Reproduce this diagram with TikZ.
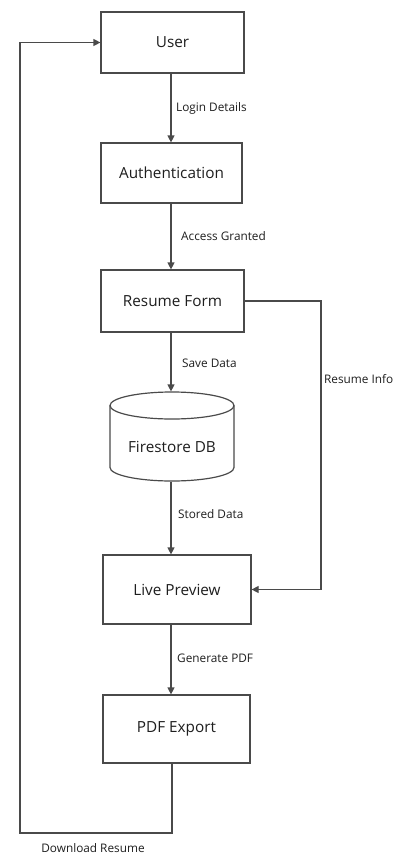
\documentclass[tikz,border=0pt]{standalone}
\usepackage{fontspec}
\setmainfont{Open Sans}
\usetikzlibrary{arrows.meta}
\definecolor{ln}{HTML}{4a4a4a}
\definecolor{tx}{HTML}{1e1e1e}
\tikzset{
  box/.style={draw=ln, line width=1.2pt, fill=white, inner sep=0pt, text=tx, font=\fontsize{15.3}{18}\selectfont},
  lbl/.style={text=tx, font=\fontsize{11.8}{14}\selectfont, inner sep=0pt},
  flow/.style={draw=ln, line width=1.2pt, -{Triangle[length=7pt,width=7pt]}},
  plain/.style={draw=ln, line width=1.2pt}
}
\begin{document}
\begin{tikzpicture}[x=1pt,y=-1pt]
\useasboundingbox[fill=white] (0,0) rectangle (396,857);
\node[box, minimum width=143pt, minimum height=61pt] (user) at (172.5,42.5) {User};
\node[box, minimum width=141pt, minimum height=60pt] (auth) at (171.5,173) {Authentication};
\node[box, minimum width=143pt, minimum height=62pt] (form) at (172.5,301) {Resume Form};
\node[box, draw=none, fill=none, minimum width=124pt, minimum height=89pt] (db) at (172,436.5) {};
\node[box, minimum width=148pt, minimum height=69pt] (prev) at (177,589.5) {Live Preview};
\node[box, minimum width=147pt, minimum height=68pt] (pdf) at (176.5,729) {PDF Export};
% cylinder
\draw[plain, fill=white] (110,405.5) -- (110,467.5) arc[start angle=180, end angle=360, x radius=62, y radius=-13.5] -- (234,405.5);
\draw[plain, fill=white] (172,405.5) ellipse[x radius=62, y radius=13.5];
\node[text=tx, font=\fontsize{15.3}{18}\selectfont, inner sep=0pt] (dbt) at (172,447) {Firestore DB};
% connectors
\coordinate (c1) at (321,301);
\coordinate (c2) at (321,589.5);
\coordinate (c3) at (172,833);
\coordinate (c4) at (20,833);
\coordinate (c5) at (20,42.5);
\draw[flow] (user.south -| 171,0) -- (auth.north -| 171,0);
\draw[flow] (auth.south -| 171,0) -- (form.north -| 171,0);
\draw[flow] (form.south -| 171,0) -- (db.north -| 171,0);
\draw[flow] (db.south -| 171,0) -- (prev.north -| 171,0);
\draw[flow] (prev.south -| 171,0) -- (pdf.north -| 171,0);
\draw[flow] (form.east |- c1) -- (c1) -- (c2) -- (prev.east);
\draw[flow] (pdf.south -| c3) -- (c3) -- (c4) -- (c5) -- (user.west);
% labels
\node[lbl, anchor=west] (l1) at (176,108) {Login Details};
\node[lbl, anchor=west] (l2) at (181,236) {Access Granted};
\node[lbl, anchor=west] (l3) at (182,363) {Save Data};
\node[lbl, anchor=west] (l4) at (178,514) {Stored Data};
\node[lbl, anchor=west] (l5) at (177,658) {Generate PDF};
\node[lbl, anchor=west] (l6) at (324,379) {Resume Info};
\node[lbl] (l7) at (93,848.5) {Download Resume};
\end{tikzpicture}
\end{document}
